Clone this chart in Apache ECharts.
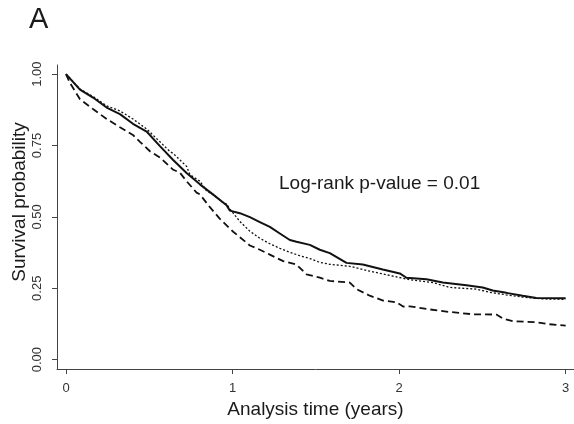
<!DOCTYPE html>
<html>
<head>
<meta charset="utf-8">
<script src="https://cdn.jsdelivr.net/npm/echarts@6/dist/echarts.min.js"></script>
<style>
  html, body { margin: 0; padding: 0; background: #fff; }
  #chart { width: 574px; height: 424px; }
</style>
</head>
<body>
<div id="chart"></div>
<script>
// values
const solidT = [0, 0.004, 0.084, 0.162, 0.244, 0.324, 0.402, 0.484, 0.564, 0.642, 0.724, 0.804, 0.882, 0.964, 0.984, 1.044, 1.104, 1.164, 1.224, 1.284, 1.344, 1.384, 1.464, 1.524, 1.584, 1.684, 1.782, 1.902, 2.004, 2.044, 2.164, 2.262, 2.404, 2.502, 2.562, 2.644, 2.742, 2.824, 3.0]
const solidS = [1.0, 0.998, 0.946, 0.918, 0.883, 0.860, 0.826, 0.799, 0.748, 0.700, 0.654, 0.614, 0.579, 0.541, 0.522, 0.513, 0.499, 0.482, 0.465, 0.442, 0.419, 0.413, 0.402, 0.385, 0.373, 0.339, 0.333, 0.316, 0.302, 0.287, 0.282, 0.270, 0.261, 0.253, 0.242, 0.234, 0.224, 0.216, 0.215]

const dottedT = [0, 0.004, 0.084, 0.162, 0.244, 0.324, 0.402, 0.484, 0.564, 0.624, 0.642, 0.724, 0.744, 0.804, 0.844, 0.882, 0.942, 0.964, 0.984, 1.044, 1.104, 1.164, 1.224, 1.284, 1.344, 1.404, 1.464, 1.524, 1.584, 1.704, 1.824, 1.944, 2.064, 2.202, 2.304, 2.464, 2.544, 2.644, 2.742, 2.862, 3.0]
const dottedS = [1.0, 0.998, 0.948, 0.922, 0.889, 0.871, 0.843, 0.808, 0.763, 0.729, 0.723, 0.677, 0.648, 0.625, 0.591, 0.579, 0.551, 0.545, 0.528, 0.484, 0.450, 0.425, 0.406, 0.390, 0.376, 0.364, 0.354, 0.341, 0.334, 0.327, 0.310, 0.295, 0.280, 0.270, 0.253, 0.247, 0.236, 0.227, 0.219, 0.213, 0.211]

const dashedT = [0, 0.024, 0.084, 0.164, 0.244, 0.324, 0.404, 0.444, 0.504, 0.564, 0.644, 0.684, 0.724, 0.784, 0.804, 0.864, 0.924, 1.004, 1.104, 1.164, 1.224, 1.304, 1.384, 1.444, 1.524, 1.584, 1.704, 1.744, 1.824, 1.904, 1.984, 2.024, 2.064, 2.184, 2.304, 2.444, 2.584, 2.624, 2.684, 2.824, 2.904, 3.0]
const dashedS = [1.0, 0.969, 0.912, 0.877, 0.843, 0.814, 0.786, 0.763, 0.730, 0.708, 0.665, 0.655, 0.625, 0.585, 0.579, 0.534, 0.493, 0.448, 0.400, 0.385, 0.368, 0.345, 0.333, 0.299, 0.287, 0.276, 0.270, 0.247, 0.224, 0.207, 0.201, 0.186, 0.187, 0.176, 0.167, 0.159, 0.158, 0.144, 0.135, 0.131, 0.124, 0.119]

const xTicks = [0, 1, 2, 3]
const yTicks = [0, 0.25, 0.5, 0.75, 1]

const zip = (t, s) => t.map((v, i) => [v, s[i]])

const font = 'Liberation Sans, Arial, sans-serif'
const ink = '#1a1a1a'

const chart = echarts.init(document.getElementById('chart'))

chart.setOption({
  animation: false,
  grid: { left: 57, right: 0, top: 65, bottom: 49 },
  xAxis: {
    type: 'value',
    min: -0.054,
    max: 3.05,
    splitLine: { show: false },
    axisLine: { onZero: false, lineStyle: { color: '#444', width: 1 } },
    axisTick: { customValues: xTicks, length: 5, lineStyle: { color: '#444' } },
    axisLabel: {
      customValues: xTicks,
      margin: 13,
      fontFamily: font,
      fontSize: 13,
      color: '#333'
    },
    name: 'Analysis time (years)',
    nameLocation: 'middle',
    nameGap: 30,
    nameTextStyle: { fontFamily: font, fontSize: 19, color: ink }
  },
  yAxis: {
    type: 'value',
    min: -0.033,
    max: 1.032,
    splitLine: { show: false },
    axisLine: { show: true, onZero: false, lineStyle: { color: '#444', width: 1 } },
    axisTick: { show: true, customValues: yTicks, length: 5, lineStyle: { color: '#444' } },
    axisLabel: {
      customValues: yTicks,
      rotate: 90,
      margin: 13,
      fontFamily: font,
      fontSize: 13,
      color: '#333',
      formatter: v => v.toFixed(2)
    }
  },
  graphic: [
    {
      type: 'text',
      left: 29, top: 5,
      style: { text: 'A', font: '29px ' + font, fill: ink }
    },
    {
      type: 'text',
      x: 20, y: 202,
      rotation: Math.PI / 2,
      style: {
        text: 'Survival probability',
        font: '19px ' + font,
        fill: ink,
        align: 'center',
        verticalAlign: 'middle'
      }
    },
    {
      type: 'text',
      x: 279, y: 184,
      style: {
        text: 'Log-rank p-value = 0.01',
        font: '19px ' + font,
        fill: ink,
        align: 'left',
        verticalAlign: 'middle'
      }
    }
  ],
  series: [
    {
      type: 'line',
      data: zip(dottedT, dottedS),
      symbol: 'none',
      lineStyle: { color: '#111', width: 1.3, type: [2, 2] }
    },
    {
      type: 'line',
      data: zip(dashedT, dashedS),
      symbol: 'none',
      lineStyle: { color: '#111', width: 1.8, type: [7, 4] }
    },
    {
      type: 'line',
      data: zip(solidT, solidS),
      symbol: 'none',
      lineStyle: { color: '#111', width: 2 }
    }
  ]
})
</script>
</body>
</html>
